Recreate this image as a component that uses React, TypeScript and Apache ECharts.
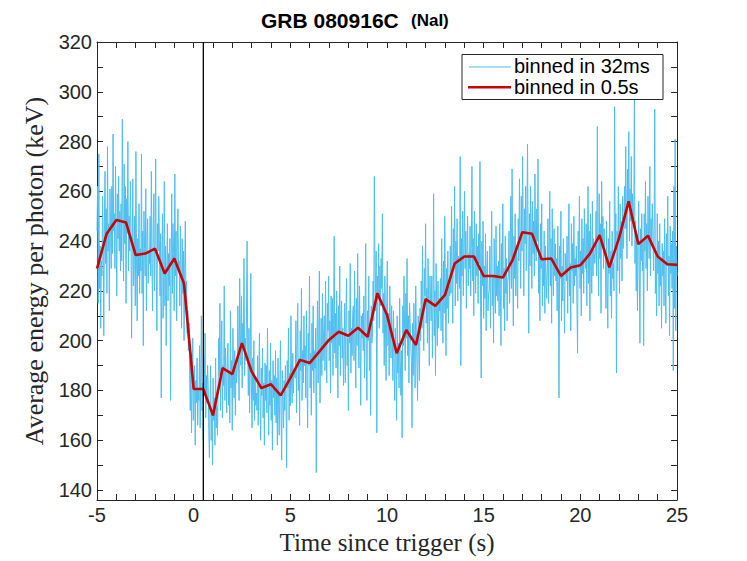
import React, { useEffect, useRef } from "react";
import * as echarts from "echarts";

// 0.5 s binned average energy (keV), at these times (s)
const coarseTimes = [
  -5, -4.5, -4, -3.5, -3, -2.5, -2, -1.5, -1, -0.5, 0, 0.5, 1, 1.5, 2, 2.5, 3, 3.5, 4, 4.5,
  5, 5.5, 6, 6.5, 7, 7.5, 8, 8.5, 9, 9.5, 10, 10.5, 11, 11.5, 12, 12.5, 13, 13.5, 14, 14.5,
  15, 15.5, 16, 16.5, 17, 17.5, 18, 18.5, 19, 19.5, 20, 20.5, 21, 21.5, 22, 22.5, 23, 23.5, 24, 24.5, 25,
];
const coarse05s = [
  229, 243, 248.5, 247.5, 234.4, 235, 237, 227, 233, 223, 180.6, 180.6, 170, 189, 186.6, 199, 187.6, 181, 182.5, 178,
  185, 192.3, 191, 195.6, 200.3, 203.6, 202, 205.2, 201.6, 219, 210.4, 195, 204.3, 198.3, 216.7, 214, 218.4, 231, 233.8, 233.8,
  226, 226, 225.4, 232.5, 243.6, 243, 232.7, 233, 226, 229.4, 230.3, 235, 242.4, 229.5, 241.2, 256, 238.8, 242.2, 233.8, 230.7, 230.5,
];

// 32 ms binned average energy (keV), evenly spaced from -5 s to 25 s
const fine32ms = [
  244, 262, 215, 275, 221, 238, 205, 232,
  226, 258, 240, 202, 248, 268, 231, 253, 219, 278, 236, 247, 212, 261, 244, 229,
  262, 235, 283, 244, 251, 229, 270, 246, 218, 259, 241, 266, 236, 252, 228,
  255, 232, 289, 248, 224, 271, 239, 262, 215, 257, 243, 280, 228, 250, 236, 264,
  246, 201, 238, 265, 222, 229, 250, 214, 276, 233, 208, 241, 226, 255, 219, 237,
  228, 275, 219, 244, 198, 252, 237, 226, 261, 212, 240, 249, 223, 236, 231,
  250, 226, 268, 231, 212, 245, 259, 220, 238, 273, 229, 204, 247, 236, 258, 241,
  218, 243, 177, 232, 251, 209, 226, 264, 214, 238, 198, 229, 247, 216, 235, 222,
  241, 176, 228, 259, 219, 247, 235, 212, 267, 226, 244, 208, 238, 253, 230,
  232, 214, 246, 228, 205, 241, 219, 236, 200, 229, 248, 215, 224, 203, 212, 196,
  207, 186, 172, 195, 163, 181, 201, 168, 178, 190, 158, 184, 175, 193, 166, 180,
  176, 198, 165, 187, 210, 172, 183, 160, 194, 178, 203, 169, 186, 175, 190,
  182, 164, 153, 175, 190, 160, 171, 150, 185, 168, 177, 158, 193, 165, 174, 162,
  178, 201, 186, 215, 172, 194, 208, 169, 190, 182, 222, 176, 197, 185, 171, 193,
  199, 174, 188, 167, 212, 181, 192, 164, 205, 185, 177, 196, 170, 190, 183,
  188, 214, 195, 176, 225, 203, 190, 218, 181, 207, 198, 233, 186, 201, 192, 210,
  240, 196, 178, 205, 171, 188, 227, 182, 165, 193, 176, 200, 168, 185, 174, 179,
  172, 194, 166, 185, 203, 175, 160, 189, 178, 197, 169, 183, 158, 191, 176,
  190, 171, 205, 179, 162, 188, 174, 199, 168, 184, 156, 192, 177, 186, 170, 196,
  167, 185, 158, 193, 174, 162, 181, 200, 170, 152, 188, 176, 165, 184, 172, 190,
  176, 149, 192, 181, 205, 168, 187, 174, 210, 183, 175, 195, 179, 188, 186,
  185, 208, 171, 199, 215, 180, 193, 166, 204, 188, 221, 176, 196, 183, 210, 190,
  198, 177, 212, 186, 165, 203, 190, 226, 181, 195, 170, 207, 188, 214, 179, 196,
  189, 205, 147, 198, 216, 183, 201, 228, 175, 194, 209, 186, 219, 192, 204,
  210, 188, 224, 197, 183, 215, 204, 226, 192, 208, 179, 218, 199, 217, 186, 206,
  242, 195, 211, 189, 220, 203, 177, 214, 198, 230, 186, 207, 216, 193, 205, 182,
  196, 215, 183, 208, 225, 190, 201, 172, 212, 199, 231, 187, 205, 194, 211,
  214, 192, 228, 203, 181, 217, 198, 235, 206, 189, 222, 199, 174, 210, 201, 211,
  196, 218, 185, 207, 239, 193, 176, 212, 200, 226, 188, 205, 170, 214, 199, 203,
  224, 208, 266, 231, 212, 236, 163, 226, 218, 239, 205, 230, 214, 233, 221,
  251, 203, 219, 190, 226, 207, 184, 215, 232, 198, 211, 186, 222, 204, 193, 214,
  201, 184, 212, 190, 176, 205, 193, 168, 210, 187, 199, 181, 217, 192, 178, 196,
  161, 214, 198, 226, 205, 188, 219, 201, 233, 194, 210, 183, 215, 207, 199,
  192, 165, 207, 186, 215, 198, 181, 222, 203, 190, 176, 210, 196, 184, 213, 200,
  224, 205, 238, 212, 196, 229, 218, 247, 207, 221, 199, 233, 214, 190, 226, 217,
  208, 226, 193, 214, 259, 202, 220, 186, 231, 211, 198, 224, 205, 217, 212,
  225, 204, 241, 216, 199, 232, 211, 250, 220, 194, 229, 213, 236, 207, 222, 218,
  238, 219, 254, 226, 207, 245, 231, 262, 214, 240, 223, 249, 216, 234, 228, 221,
  274, 190, 241, 226, 252, 218, 237, 260, 229, 244, 213, 238, 250, 222, 235,
  229, 246, 218, 237, 270, 224, 241, 210, 252, 232, 219, 247, 226, 238, 215, 243,
  231, 272, 214, 185, 240, 222, 248, 209, 230, 217, 243, 204, 228, 236, 212, 219,
  220, 238, 205, 231, 252, 214, 226, 199, 241, 223, 211, 246, 218, 230, 216,
  232, 210, 247, 221, 198, 239, 226, 255, 213, 229, 204, 242, 219, 233, 208, 224,
  226, 244, 215, 237, 258, 221, 269, 230, 206, 242, 225, 251, 218, 236, 229, 213,
  249, 232, 265, 240, 221, 258, 236, 274, 244, 218, 253, 239, 262, 228, 246,
  279, 238, 203, 251, 230, 262, 244, 221, 256, 235, 248, 226, 267, 240, 232, 253,
  240, 273, 219, 236, 208, 247, 229, 255, 214, 233, 222, 244, 211, 238, 226, 217,
  228, 249, 215, 237, 260, 222, 241, 207, 253, 230, 218, 245, 226, 239, 224,
  233, 212, 246, 219, 177, 238, 225, 252, 208, 230, 216, 241, 221, 203, 235, 227,
  224, 242, 211, 236, 255, 218, 231, 204, 247, 228, 239, 215, 250, 222, 233, 226,
  238, 216, 195, 244, 229, 258, 221, 236, 210, 249, 227, 241, 219, 253, 232,
  229, 247, 214, 238, 262, 223, 244, 208, 251, 232, 219, 256, 226, 241, 235, 231,
  236, 252, 226, 286, 241, 218, 259, 233, 247, 211, 264, 238, 250, 229, 245, 237,
  234, 213, 248, 222, 205, 241, 227, 256, 218, 236, 209, 244, 225, 231, 220,
  294, 236, 251, 187, 244, 228, 262, 239, 219, 255, 233, 248, 224, 258, 237, 245,
  262, 245, 278, 251, 233, 269, 256, 284, 240, 261, 248, 274, 238, 259, 252, 246,
  297, 231, 248, 220, 243, 212, 238, 256, 226, 199, 245, 232, 251, 228, 240,
  198, 251, 236, 264, 229, 247, 220, 258, 241, 233, 270, 226, 249, 238, 255, 244,
  228, 245, 293, 219, 236, 210, 251, 227, 240, 214, 247, 222, 233, 205, 239, 226,
  236, 214, 249, 225, 207, 243, 230, 258, 218, 234, 202, 246, 227, 239, 221,
  244, 188, 262, 213, 281, 204, 238, 226,
];

const triggerLineTime = 0.5;

const xTickLabels = [-5, 0, 5, 10, 15, 20, 25];
const xTickMarks = [-5, -4, -3, -2, -1, 0, 1, 2, 3, 4, 5, 6, 7, 8, 9, 10, 11, 12, 13, 14, 15, 16, 17, 18, 19, 20, 21, 22, 23, 24, 25];
const yTickLabels = [140, 160, 180, 200, 220, 240, 260, 280, 300, 320];
const yTickMarks = [140, 150, 160, 170, 180, 190, 200, 210, 220, 230, 240, 250, 260, 270, 280, 290, 300, 310, 320];

const titleMain = "GRB 080916C";
const titleSub = "(NaI)";
const legendNames = ["binned in 32ms", "binned in 0.5s"];
const xTitle = "Time since trigger (s)";
const yTitle = "Average energy per photon (keV)";

export default function App() {
  const ref = useRef<HTMLDivElement>(null);

  useEffect(() => {
    if (!ref.current) return;
    const chart = echarts.init(ref.current, null, { renderer: "svg" });
    const N = fine32ms.length;
    const fineData = fine32ms.map((v, i) => [-5 + (30 * i) / (N - 1), v]);
    const coarseData = coarseTimes.map((t, i) => [t, coarse05s[i]]);
    const yMin = 136;
    const yMax = 320;
    const axisColor = "#262626";
    const sans = "'Liberation Sans', Arial, Helvetica, sans-serif";
    const serif = "'Liberation Serif', 'Times New Roman', serif";
    const blue = "#4DBEEE";
    const red = "#CC0000";

    const baseX = {
      type: "value",
      min: -5,
      max: 25,
      axisLine: { show: true, onZero: false, lineStyle: { color: axisColor, width: 1 } },
      axisTick: { show: true, inside: true, length: 6, customValues: xTickMarks, lineStyle: { color: axisColor, width: 1 } },
      splitLine: { show: false },
    };
    const baseY = {
      type: "value",
      min: yMin,
      max: yMax,
      axisLine: { show: true, onZero: false, lineStyle: { color: axisColor, width: 1 } },
      axisTick: { show: true, inside: true, length: 6, customValues: yTickMarks, lineStyle: { color: axisColor, width: 1 } },
      splitLine: { show: false },
    };

    chart.setOption({
      animation: false,
      backgroundColor: "#ffffff",
      grid: { left: 97, right: 70, top: 42, bottom: 61, containLabel: false, outerBoundsMode: "none" },
      xAxis: [
        {
          ...baseX,
          position: "bottom",
          axisLabel: { show: true, customValues: xTickLabels, fontFamily: sans, fontSize: 20, color: axisColor, margin: 5 },
          name: xTitle,
          nameLocation: "middle",
          nameGap: 29,
          nameTextStyle: { fontFamily: serif, fontSize: 25, color: axisColor },
        },
        { ...baseX, position: "top", axisLabel: { show: false } },
      ],
      yAxis: [
        {
          ...baseY,
          position: "left",
          axisLabel: { show: true, customValues: yTickLabels, fontFamily: sans, fontSize: 20, color: axisColor, margin: 5 },
          name: yTitle,
          nameLocation: "middle",
          nameGap: 43,
          nameTextStyle: { fontFamily: serif, fontSize: 26, color: axisColor },
        },
        { ...baseY, position: "right", axisLabel: { show: false } },
      ],
      series: [
        {
          name: legendNames[0],
          type: "line",
          data: fineData,
          showSymbol: false,
          symbol: "none",
          lineStyle: { color: blue, width: 1 },
          z: 2,
        },
        {
          name: legendNames[1],
          type: "line",
          data: coarseData,
          showSymbol: false,
          symbol: "none",
          lineStyle: { color: red, width: 2.6 },
          z: 3,
        },
        {
          name: "trigger",
          type: "line",
          data: [
            [triggerLineTime, yMin],
            [triggerLineTime, yMax],
          ],
          showSymbol: false,
          symbol: "none",
          lineStyle: { color: "#000000", width: 1.3 },
          z: 4,
        },
      ],
      graphic: [
        {
          type: "text",
          x: 261,
          y: 20,
          style: { text: titleMain, fontFamily: sans, fontSize: 21, fontWeight: "bold", fill: "#000000", align: "left", verticalAlign: "middle" },
        },
        {
          type: "text",
          x: 411,
          y: 20.8,
          style: { text: titleSub, fontFamily: sans, fontSize: 17, fontWeight: "bold", fill: "#000000", align: "left", verticalAlign: "middle" },
        },
        {
          type: "rect",
          shape: { x: 462, y: 54.5, width: 201, height: 45 },
          style: { fill: "#ffffff", stroke: axisColor, lineWidth: 1 },
          z: 100,
        },
        {
          type: "line",
          shape: { x1: 469, y1: 67, x2: 511, y2: 67 },
          style: { stroke: blue, lineWidth: 1 },
          z: 101,
        },
        {
          type: "line",
          shape: { x1: 468, y1: 87.3, x2: 511, y2: 87.3 },
          style: { stroke: red, lineWidth: 2.6 },
          z: 101,
        },
        {
          type: "text",
          x: 514,
          y: 66,
          style: { text: legendNames[0], fontFamily: sans, fontSize: 20, fill: "#000000", align: "left", verticalAlign: "middle" },
          z: 101,
        },
        {
          type: "text",
          x: 514,
          y: 87,
          style: { text: legendNames[1], fontFamily: sans, fontSize: 20, fill: "#000000", align: "left", verticalAlign: "middle" },
          z: 101,
        },
      ],
    });

    return () => chart.dispose();
  }, []);

  return <div ref={ref} style={{ position: "absolute", left: 0, top: 0, width: 747, height: 561 }} />;
}
